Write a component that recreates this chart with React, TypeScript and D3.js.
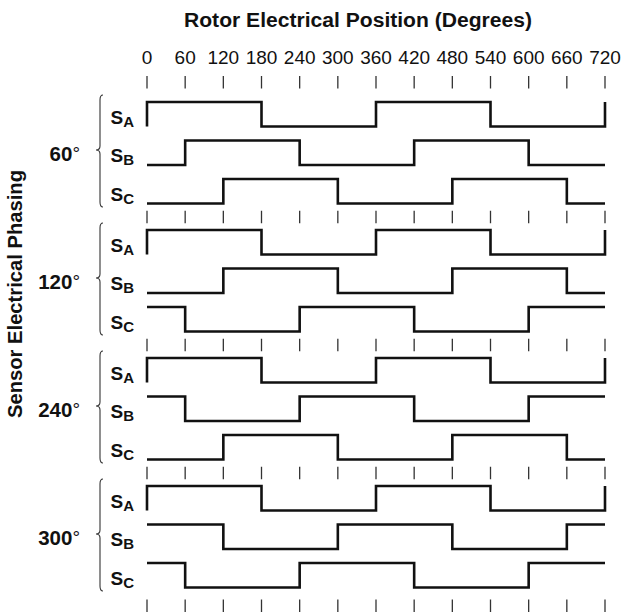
import React from "react";
import * as d3 from "d3";

// ---- data ----
const xTicks = [0, 60, 120, 180, 240, 300, 360, 420, 480, 540, 600, 660, 720];
const phasings = ["60", "120", "240", "300"];
const sensors = ["A", "B", "C"];
// logic level per 60° segment (0–60, 60–120, ... 660–720)
const levels60 = [
  [1, 1, 1, 0, 0, 0, 1, 1, 1, 0, 0, 0],
  [0, 1, 1, 1, 0, 0, 0, 1, 1, 1, 0, 0],
  [0, 0, 1, 1, 1, 0, 0, 0, 1, 1, 1, 0],
];
const levels120 = [
  [1, 1, 1, 0, 0, 0, 1, 1, 1, 0, 0, 0],
  [0, 0, 1, 1, 1, 0, 0, 0, 1, 1, 1, 0],
  [1, 0, 0, 0, 1, 1, 1, 0, 0, 0, 1, 1],
];
const levels240 = [
  [1, 1, 1, 0, 0, 0, 1, 1, 1, 0, 0, 0],
  [1, 0, 0, 0, 1, 1, 1, 0, 0, 0, 1, 1],
  [0, 0, 1, 1, 1, 0, 0, 0, 1, 1, 1, 0],
];
const levels300 = [
  [1, 1, 1, 0, 0, 0, 1, 1, 1, 0, 0, 0],
  [1, 1, 0, 0, 0, 1, 1, 1, 0, 0, 0, 1],
  [1, 0, 0, 0, 1, 1, 1, 0, 0, 0, 1, 1],
];
const groupLevels = [levels60, levels120, levels240, levels300];
const segment = 60;

const W = 621;
const H = 614;
const FONT = "'Liberation Sans', Arial, Helvetica, sans-serif";
const NARROW = "'Liberation Sans Narrow', 'Arial Narrow', 'Liberation Sans', sans-serif";

export default function App() {
  const x = d3.scaleLinear().domain([0, 720]).range([147, 605]);
  const groupY = d3.scaleLinear().domain([0, 1]).range([102, 230]); // top of each group
  const rowGap = 38.5;
  const amp = 24.5;

  const line = d3
    .line<[number, number]>()
    .x((d) => x(d[0]))
    .y((d) => d[1]);

  const buildPoints = (lv: number[], top: number): [number, number][] => {
    const yOf = (v: number) => (v ? top : top + amp);
    const n = lv.length;
    const pts: [number, number][] = [];
    const prev = lv[n - 1];
    if (prev !== lv[0]) pts.push([0, yOf(prev)]);
    for (let i = 0; i < n; i++) {
      pts.push([i * segment, yOf(lv[i])]);
      pts.push([(i + 1) * segment, yOf(lv[i])]);
    }
    const next = lv[0];
    if (next !== lv[n - 1]) pts.push([n * segment, yOf(next)]);
    return pts;
  };

  // tick rows
  const tickRows: number[] = [];
  tickRows.push(groupY(0) - 20);
  for (let g = 1; g < groupLevels.length; g++) {
    const prevLow = groupY(g - 1) + 2 * rowGap + amp;
    tickRows.push((prevLow + groupY(g)) / 2);
  }
  tickRows.push(groupY(groupLevels.length - 1) + 2 * rowGap + amp + 18);

  return (
    <svg
      width={W}
      height={H}
      style={{ position: "absolute", left: 0, top: 0, background: "#fff" }}
      fontFamily={FONT}
    >
      <rect width={W} height={H} fill="#fff" />
      <text
        x={184}
        y={27}
        fontWeight="bold"
        fontSize={19.5}
        fill="#111"
        textLength={348}
        lengthAdjust="spacingAndGlyphs"
      >
        Rotor Electrical Position (Degrees)
      </text>
      <text
        transform={`translate(22,418) rotate(-90)`}
        fontWeight="bold"
        fontSize={19.5}
        fill="#111"
        textLength={248}
        lengthAdjust="spacingAndGlyphs"
      >
        Sensor Electrical Phasing
      </text>
      {xTicks.map((t) => (
        <text key={"tl" + t} x={x(t)} y={64} textAnchor="middle" fontFamily={NARROW} fontSize={19} fill="#111">
          {t}
        </text>
      ))}
      {tickRows.map((cy, r) =>
        xTicks.map((t) => (
          <line
            key={`tk${r}-${t}`}
            x1={x(t)}
            x2={x(t)}
            y1={cy - 6}
            y2={cy + 6.5}
            stroke="#333"
            strokeWidth={1.3}
          />
        ))
      )}
      {groupLevels.map((lvls, g) => {
        const top = groupY(g);
        const bt = top - 7;
        const bb = top + 105;
        const mid = top + 48;
        const bx = 100;
        const brace = `M${bx + 3},${bt} Q${bx},${bt} ${bx},${bt + 5} L${bx},${mid - 4} Q${bx},${mid} ${bx - 4},${mid} Q${bx},${mid} ${bx},${mid + 4} L${bx},${bb - 5} Q${bx},${bb} ${bx + 3},${bb}`;
        return (
          <g key={"g" + g}>
            <text x={80} y={top + 59} textAnchor="end" fontWeight="bold" fontSize={20.5} fill="#111">
              {phasings[g]}
              <tspan fontWeight="normal" fontSize={19} dy={-1}>°</tspan>
            </text>
            <path d={brace} fill="none" stroke="#333" strokeWidth={1.1} />
            {lvls.map((lv, r) => {
              const rt = top + r * rowGap;
              return (
                <g key={"r" + r}>
                  <text x={110.5} y={rt + 21.5} fontWeight="bold" fontSize={19} fill="#111">
                    S
                    <tspan fontSize={15} dy={3}>
                      {sensors[r]}
                    </tspan>
                  </text>
                  <path
                    d={line(buildPoints(lv, rt)) || ""}
                    fill="none"
                    stroke="#111"
                    strokeWidth={2.6}
                    strokeLinejoin="miter"
                  />
                </g>
              );
            })}
          </g>
        );
      })}
    </svg>
  );
}
